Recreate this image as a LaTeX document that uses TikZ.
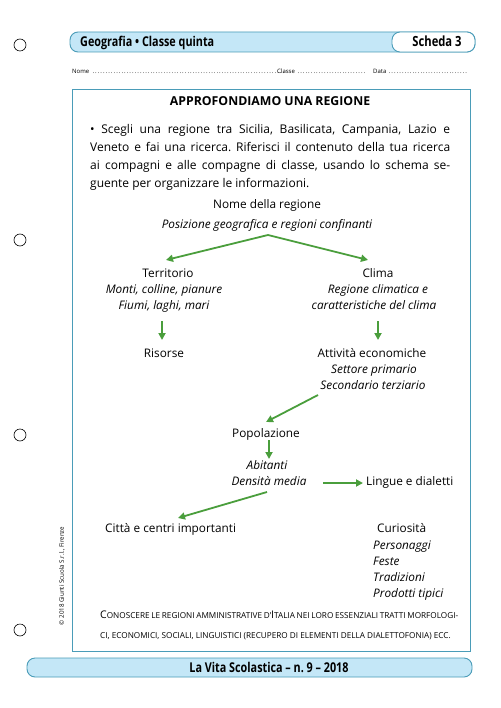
\documentclass[tikz,border=0pt]{standalone}
\usepackage{fontspec}
\setmainfont{Open Sans}
\newfontfamily\condfont[FakeStretch=0.8]{Open Sans}
\usetikzlibrary{arrows.meta}
\definecolor{frame}{HTML}{4A9CB8}
\definecolor{barfill}{HTML}{C4E7F7}
\definecolor{arrgreen}{HTML}{4A9E3C}
\newcommand\smc[1]{{\fontsize{8.2}{10}\selectfont #1}}
\frenchspacing
\begin{document}
\begin{tikzpicture}[x=1pt,y=-1pt,
  txt/.style={inner sep=0pt, anchor=base, font=\fontsize{11.8}{13}\selectfont},
  itx/.style={inner sep=0pt, anchor=base, font=\fontsize{11.8}{13}\selectfont\itshape},
  para/.style={inner sep=0pt, anchor=base west, font=\fontsize{12}{14}\selectfont},
  arr/.style={draw=arrgreen, line width=1.8pt, -{Triangle[length=7pt,width=7pt]}},
  hole/.style={circle, draw=black, line width=0.6pt, minimum size=12pt, inner sep=0pt},
  bar/.style={draw=frame, line width=0.9pt, fill=barfill, rounded corners=8pt},
  small/.style={inner sep=0pt, anchor=base west, font=\fontsize{6}{7}\selectfont},
]
\useasboundingbox (0,0) rectangle (500,708);
\fill[white] (0,0) rectangle (500,708);

% punch holes
\node[hole] (h1) at (20,45) {};
\node[hole] (h2) at (20,240) {};
\node[hole] (h3) at (20,435) {};
\node[hole] (h4) at (20,630) {};

% header
\draw[bar] (70,32) rectangle (475,52);
\draw[draw=frame, line width=0.9pt, fill=white, rounded corners=8pt] (392,32) rectangle (475,52);
\node[inner sep=0pt, anchor=base west, font=\condfont\fontsize{13.5}{15}\selectfont\bfseries] (hdr) at (80,47) {Geografia • Classe quinta};
\node[inner sep=0pt, anchor=base, font=\condfont\fontsize{14}{15}\selectfont\bfseries] (sch) at (437,47) {Scheda 3};

% name line
\node[small] (nome) at (72,74) {Nome \hbox to 195pt{\dotfill}};
\node[small] (classe) at (277,74) {Classe \hbox to 70pt{\dotfill}};
\node[small] (data) at (373,74) {Data \hbox to 80pt{\dotfill}};

% main box
\draw[draw=frame, line width=0.9pt] (72,89) rectangle (470,651);

\node[inner sep=0pt, anchor=base, font=\fontsize{12.3}{14}\selectfont\bfseries] (title) at (270,105.5) {APPROFONDIAMO UNA REGIONE};

\node[para] (p1) at (90,134) {\hbox to 360pt{• Scegli una regione tra Sicilia, Basilicata, Campania, Lazio e}};
\node[para] (p2) at (90,152) {\hbox to 360pt{Veneto e fai una ricerca. Riferisci il contenuto della tua ricerca}};
\node[para] (p3) at (90,170) {\hbox to 360pt{ai compagni e alle compagne di classe, usando lo schema se-}};
\node[para] (p4) at (90,188) {guente per organizzare le informazioni.};

% diagram
\node[txt] (nomereg) at (267,209) {Nome della regione};
\node[itx] (pos) at (267,229) {Posizione geografica e regioni confinanti};

\node[txt] (terr) at (168,277) {Territorio};
\node[itx] (terr1) at (164,293) {Monti, colline, pianure};
\node[itx] (terr2) at (164,309) {Fiumi, laghi, mari};

\node[txt] (clima) at (378,277) {Clima};
\node[itx] (clima1) at (378,293) {Regione climatica e};
\node[itx] (clima2) at (374,309) {caratteristiche del clima};

\node[txt] (ris) at (164,357) {Risorse};
\node[txt] (att) at (372,357) {Attività economiche};
\node[itx] (att1) at (374,373) {Settore primario};
\node[itx] (att2) at (373,389) {Secondario terziario};

\node[txt] (pop) at (266,437) {Popolazione};
\node[itx] (ab) at (267,469) {Abitanti};
\node[itx] (dens) at (269,485) {Densità media};
\node[txt, anchor=base west] (ling) at (366,485) {Lingue e dialetti};

\node[txt, anchor=base west] (citta) at (105,532) {Città e centri importanti};
\node[txt, anchor=base west] (cur) at (377,532) {Curiosità};
\node[itx, anchor=base west] (cur1) at (373,549) {Personaggi};
\node[itx, anchor=base west] (cur2) at (373,565) {Feste};
\node[itx, anchor=base west] (cur3) at (373,581) {Tradizioni};
\node[itx, anchor=base west] (cur4) at (373,597) {Prodotti tipici};

% arrow end points
\coordinate (a0) at (268,235);
\coordinate (a1) at (166,260);
\coordinate (a2) at (368,260);
\coordinate (b1s) at (162,321);
\coordinate (b1e) at (162,340);
\coordinate (b2s) at (378,321);
\coordinate (b2e) at (378,340);
\coordinate (c1s) at (318,395);
\coordinate (c1e) at (266,422);
\coordinate (d1s) at (269,440);
\coordinate (d1e) at (269,459);
\coordinate (e1s) at (323,483);
\coordinate (e1e) at (363,483);
\coordinate (f1s) at (267,492);
\coordinate (f1e) at (178,518);

\draw[arr] (a0) -- (a1);
\draw[arr] (a0) -- (a2);
\draw[arr] (b1s) -- (b1e);
\draw[arr] (b2s) -- (b2e);
\draw[arr] (c1s) -- (c1e);
\draw[arr] (d1s) -- (d1e);
\draw[arr] (e1s) -- (e1e);
\draw[arr] (f1s) -- (f1e);

% bottom note
\node[inner sep=0pt, anchor=base west, font=\fontsize{10.5}{12}\selectfont] (note1) at (100,618)
  {\hbox to 358pt{C\smc{ONOSCERE LE REGIONI AMMINISTRATIVE D’}I\smc{TALIA NEI LORO ESSENZIALI TRATTI MORFOLOGI-}}};
\node[inner sep=0pt, anchor=base west, font=\fontsize{10.5}{12}\selectfont] (note2) at (100,638)
  {\smc{CI, ECONOMICI, SOCIALI, LINGUISTICI (RECUPERO DI ELEMENTI DELLA DIALETTOFONIA) ECC.}};

% copyright
\node[inner sep=0pt, rotate=90, font=\fontsize{6.2}{7}\selectfont] (copy) at (62,576) {© 2018 Giunti Scuola S.r.l., Firenze};

% footer
\draw[bar] (27,658) rectangle (472,677);
\node[inner sep=0pt, anchor=base, font=\condfont\fontsize{13.5}{15}\selectfont\bfseries] (foot) at (269,672) {La Vita Scolastica – n. 9 – 2018};
\end{tikzpicture}
\end{document}
